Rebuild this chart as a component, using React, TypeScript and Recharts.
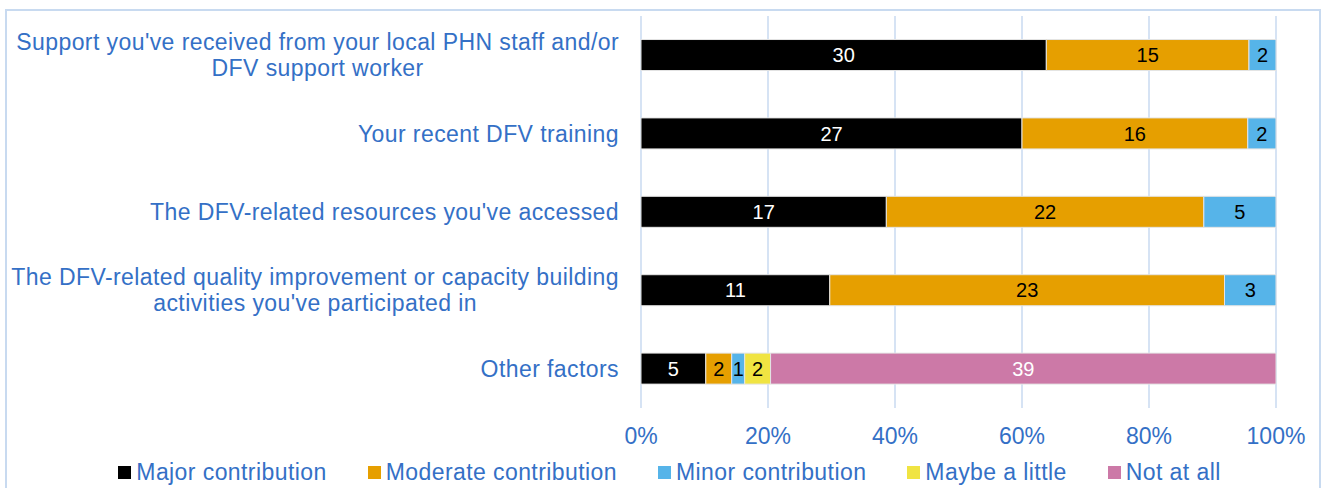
import { BarChart, Bar, XAxis, YAxis, CartesianGrid, LabelList } from 'recharts';

// categories (top to bottom), with manual line breaks as in the source
const factors = [
  "Support you've received from your local PHN staff and/or\nDFV support worker",
  'Your recent DFV training',
  "The DFV-related resources you've accessed",
  "The DFV-related quality improvement or capacity building\nactivities you've participated in",
  'Other factors',
];

// response counts per category
const major = [30, 27, 17, 11, 5];
const moderate = [15, 16, 22, 23, 2];
const minor = [2, 2, 5, 3, 1];
const maybe = [0, 0, 0, 0, 2];
const notAtAll = [0, 0, 0, 0, 39];

const xTicks = [0, 0.2, 0.4, 0.6, 0.8, 1];

const series = [
  { key: 'major', name: 'Major contribution', color: '#000000', labelColor: '#ffffff' },
  { key: 'moderate', name: 'Moderate contribution', color: '#e69f00', labelColor: '#000000' },
  { key: 'minor', name: 'Minor contribution', color: '#56b4e9', labelColor: '#000000' },
  { key: 'maybe', name: 'Maybe a little', color: '#f0e442', labelColor: '#000000' },
  { key: 'notAtAll', name: 'Not at all', color: '#cc79a7', labelColor: '#ffffff' },
];

const data = factors.map((factor, i) => ({
  factor,
  major: major[i],
  moderate: moderate[i],
  minor: minor[i],
  maybe: maybe[i],
  notAtAll: notAtAll[i],
}));

const FONT = "'Liberation Sans', Arial, sans-serif";
const TEXT_BLUE = '#3470c6';
const GRID = '#c8daf0';
const SPACING = 0.42;

// canvas used to size the multi-line labels so the block is right aligned
let ctx: CanvasRenderingContext2D | null = null;
const measure = (s: string) => {
  if (!ctx) ctx = document.createElement('canvas').getContext('2d');
  if (!ctx) return s.length * 11;
  ctx.font = `23px ${FONT}`;
  return ctx.measureText(s).width + s.length * SPACING;
};

const CategoryTick = (props: any) => {
  const { x, y, payload } = props;
  const lines: string[] = String(payload.value).split('\n');
  const w = Math.max(...lines.map(measure));
  const cx = x - w / 2;
  const offsets = lines.length === 1 ? [0] : [-13, 13];
  return (
    <g>
      {lines.map((line, i) => (
        <text
          key={i}
          x={cx}
          y={y + offsets[i]}
          textAnchor="middle"
          dominantBaseline="central"
          fill={TEXT_BLUE}
          fontSize={23}
          fontFamily={FONT}
          letterSpacing={SPACING}
        >
          {line}
        </text>
      ))}
    </g>
  );
};

export default function App() {
  return (
    <div
      style={{
        position: 'absolute',
        left: 0,
        top: 0,
        width: 1324,
        height: 488,
        overflow: 'hidden',
        background: '#fff',
        fontFamily: FONT,
      }}
    >
      {/* light frame of the figure */}
      <div
        style={{
          position: 'absolute',
          left: 5,
          top: 9,
          width: 1316,
          height: 520,
          border: `2px solid ${GRID}`,
          boxSizing: 'border-box',
        }}
      />
      <div style={{ position: 'absolute', left: 0, top: 0 }}>
        <BarChart
          width={1324}
          height={488}
          data={data}
          layout="vertical"
          stackOffset="expand"
          barCategoryGap="30%"
          margin={{ top: 16, right: 48, bottom: 40, left: 0 }}
        >
          <CartesianGrid horizontal={false} stroke={GRID} strokeWidth={1.5} />
          <XAxis
            type="number"
            domain={[0, 1]}
            ticks={xTicks}
            tickFormatter={(v: number) => `${Math.round(v * 100)}%`}
            axisLine={false}
            tickLine={false}
            tickSize={0}
            tickMargin={20}
            height={40}
            tick={{ fill: TEXT_BLUE, fontSize: 23, fontFamily: FONT }}
          />
          <YAxis
            type="category"
            dataKey="factor"
            width={641}
            axisLine={false}
            tickLine={false}
            tickSize={0}
            tickMargin={22}
            interval={0}
            tick={<CategoryTick />}
          />
          {series.map((s) => (
            <Bar
              key={s.key}
              dataKey={s.key}
              name={s.name}
              stackId="a"
              fill={s.color}
              stroke="#e4e4e4"
              strokeWidth={1}
              isAnimationActive={false}
            >
              <LabelList
                dataKey={s.key}
                position="center"
                fill={s.labelColor}
                fontSize={20}
                fontFamily={FONT}
                formatter={(v: any) => (v ? v : '')}
              />
            </Bar>
          ))}
        </BarChart>
      </div>
      {/* legend */}
      <div
        style={{
          position: 'absolute',
          left: 15,
          width: 1309,
          top: 457,
          height: 30,
          display: 'flex',
          justifyContent: 'center',
          alignItems: 'center',
          gap: 41,
        }}
      >
        {series.map((s) => (
          <div key={s.key} style={{ display: 'flex', alignItems: 'center' }}>
            <span
              style={{
                display: 'inline-block',
                width: 13,
                height: 13,
                background: s.color,
                marginRight: 5,
              }}
            />
            <span
              style={{ color: TEXT_BLUE, fontSize: 23, lineHeight: '28px', letterSpacing: SPACING }}
            >
              {s.name}
            </span>
          </div>
        ))}
      </div>
    </div>
  );
}
